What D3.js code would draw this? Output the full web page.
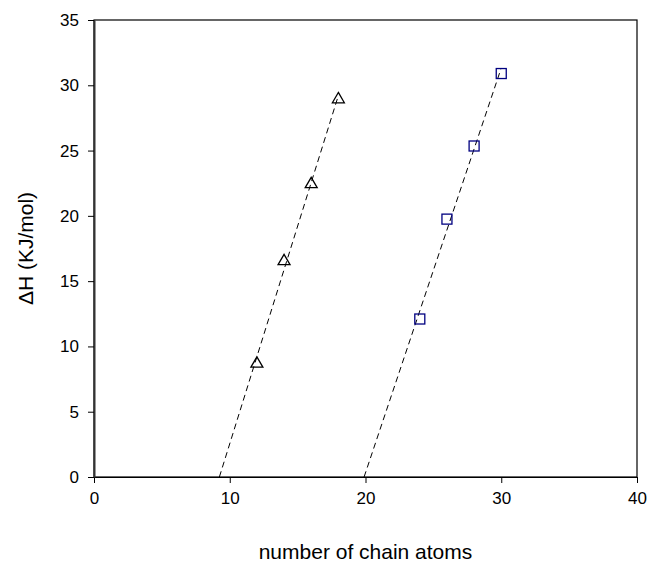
<!DOCTYPE html>
<html>
<head>
<meta charset="utf-8">
<script src="https://cdn.jsdelivr.net/npm/d3@7"></script>
<style>
  html, body { margin: 0; padding: 0; background: #fff; }
  svg { display: block; font-family: "Liberation Sans", Arial, sans-serif; }
</style>
</head>
<body>
<svg id="chart" width="649" height="563"></svg>
<script>
// Chain-length series: enthalpy vs. number of chain atoms
const triangleX = [12, 14, 16, 18];
const triangleY = [8.75, 16.6, 22.5, 29.0];
const squareX = [24, 26, 28, 30];
const squareY = [12.1, 19.75, 25.35, 30.9];

const xTicks = [0, 10, 20, 30, 40];
const yTicks = [0, 5, 10, 15, 20, 25, 30, 35];

const xTitle = "number of chain atoms";
const yTitle = "\u0394H (KJ/mol)";

const svg = d3.select("#chart");
const plotL = 94, plotR = 637, plotT = 20, plotB = 477;

const x = d3.scaleLinear().domain([0, 40]).range([plotL, plotR]);
const y = d3.scaleLinear().domain([0, 35]).range([plotB, plotT]);

// least-squares fit, drawn from the x-intercept up to the last point
function fit(xs, ys) {
  const n = xs.length;
  const mx = d3.mean(xs), my = d3.mean(ys);
  let sxy = 0, sxx = 0;
  for (let i = 0; i < n; i++) {
    sxy += (xs[i] - mx) * (ys[i] - my);
    sxx += (xs[i] - mx) * (xs[i] - mx);
  }
  const slope = sxy / sxx;
  const icpt = my - slope * mx;
  const x0 = -icpt / slope;
  const x1 = d3.max(xs);
  return [[x0, 0], [x1, slope * x1 + icpt]];
}

const line = d3.line().x(d => x(d[0])).y(d => y(d[1]));

// plot frame
svg.append("rect")
  .attr("x", plotL).attr("y", plotT)
  .attr("width", plotR - plotL).attr("height", plotB - plotT)
  .attr("fill", "none").attr("stroke", "#000").attr("stroke-width", 1.2);

// axes
const xAxis = d3.axisBottom(x).tickValues(xTicks).tickSize(6).tickSizeOuter(0).tickPadding(9);
const yAxis = d3.axisLeft(y).tickValues(yTicks).tickSize(6).tickSizeOuter(0).tickPadding(9);

const gx = svg.append("g").attr("transform", `translate(0,${plotB})`).call(xAxis);
const gy = svg.append("g").attr("transform", `translate(${plotL},0)`).call(yAxis);
[gx, gy].forEach(g => {
  g.select(".domain").attr("stroke", "#000").attr("stroke-width", 1.2);
  g.selectAll(".tick line").attr("stroke", "#000");
  g.selectAll(".tick text")
    .attr("fill", "#000")
    .style("font-size", "17px")
    .style("font-family", "'Liberation Sans', Arial, sans-serif");
});
gy.select(".domain").attr("stroke-width", 2).attr("stroke", "#333");

// trend lines
[[triangleX, triangleY], [squareX, squareY]].forEach(([xs, ys]) => {
  svg.append("path")
    .attr("d", line(fit(xs, ys)))
    .attr("fill", "none")
    .attr("stroke", "#000")
    .attr("stroke-width", 1)
    .attr("stroke-dasharray", "6,4");
});

// triangle markers
const tri = d3.symbol().type(d3.symbolTriangle).size(62);
svg.append("g").selectAll("path")
  .data(triangleX.map((v, i) => [v, triangleY[i]]))
  .join("path")
  .attr("d", tri)
  .attr("transform", d => `translate(${x(d[0])},${y(d[1]) + 1})`)
  .attr("fill", "none")
  .attr("stroke", "#000")
  .attr("stroke-width", 1.3);

// square markers
const sq = 10;
svg.append("g").selectAll("rect")
  .data(squareX.map((v, i) => [v, squareY[i]]))
  .join("rect")
  .attr("x", d => x(d[0]) - sq / 2)
  .attr("y", d => y(d[1]) - sq / 2)
  .attr("width", sq).attr("height", sq)
  .attr("fill", "none")
  .attr("stroke", "#000080")
  .attr("stroke-width", 1.3);

// axis titles
svg.append("text")
  .attr("x", (plotL + plotR) / 2).attr("y", 559)
  .attr("text-anchor", "middle")
  .style("font-size", "21px")
  .attr("fill", "#000")
  .text(xTitle);

svg.append("text")
  .attr("transform", `translate(33,${(plotT + plotB) / 2}) rotate(-90)`)
  .attr("text-anchor", "middle")
  .style("font-size", "21px")
  .attr("fill", "#000")
  .text(yTitle);
</script>
</body>
</html>
